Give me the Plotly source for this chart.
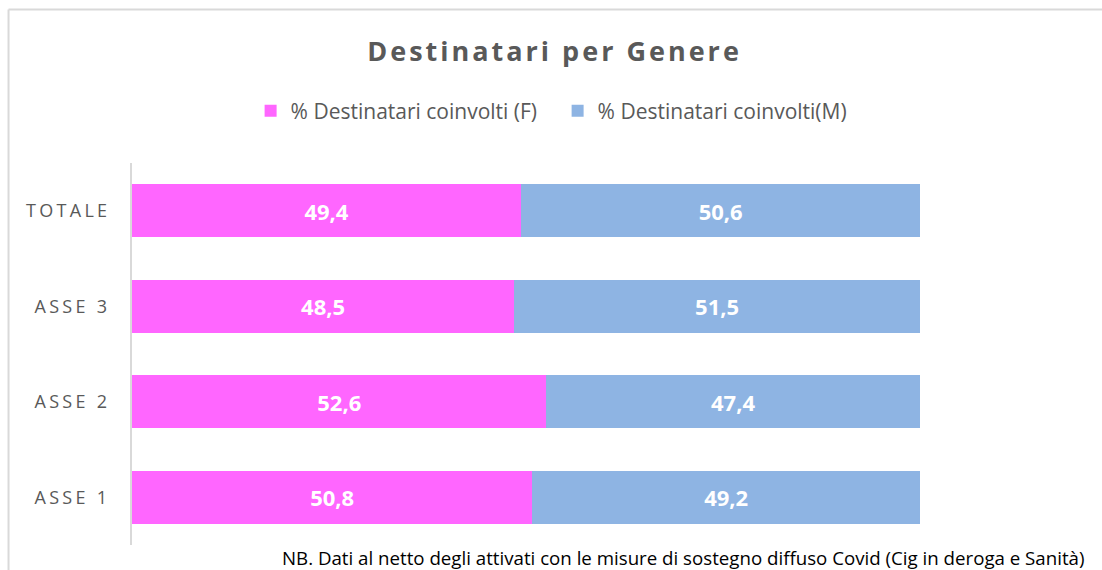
import plotly.graph_objects as go

# data
categories = ["ASSE 1", "ASSE 2", "ASSE 3", "TOTALE"]
female = [50.8, 52.6, 48.5, 49.4]
male = [49.2, 47.4, 51.5, 50.6]
name_f = "% Destinatari coinvolti (F)"
name_m = "% Destinatari coinvolti(M)"
title = "Destinatari per Genere"
note = "NB. Dati al netto degli attivati con le misure di sostegno diffuso Covid (Cig in deroga e Sanità)"
# ---------------------------------------------------------------------------

font = "Open Sans"
grey = "#595959"
W, H = 1102, 570

fig = go.Figure()
fig.add_trace(go.Bar(
  y=categories, x=female, orientation="h", name=name_f,
  marker=dict(color="#FF66FF", line=dict(width=0)),
  texttemplate="%{x:.1f}", textposition="inside", insidetextanchor="middle",
  textfont=dict(family=font, size=22, color="white", weight="bold"),
))
fig.add_trace(go.Bar(
  y=categories, x=male, orientation="h", name=name_m,
  marker=dict(color="#8EB4E3", line=dict(width=0)),
  texttemplate="%{x:.1f}", textposition="inside", insidetextanchor="middle",
  textfont=dict(family=font, size=22, color="white", weight="bold"),
))

# letter-spaced labels like the original
ticktext = ['<span style="letter-spacing:3.3px">%s</span>' % c for c in categories]

fig.update_layout(
  barmode="stack",
  bargap=0.445,
  separators=",.",
  width=W, height=H,
  margin=dict(l=132, r=182, t=163, b=25),
  paper_bgcolor="white", plot_bgcolor="white",
  font=dict(family=font, color=grey),
  title=dict(
    text='<b><span style="letter-spacing:3px">%s</span></b>' % title,
    x=0.5032, xref="container", xanchor="center", y=1 - 52 / H, yanchor="middle",
    font=dict(family=font, size=27, color=grey),
  ),
  legend=dict(
    orientation="h", xanchor="center", x=0.506, xref="container",
    yanchor="middle", y=1 - 111 / H, yref="container",
    font=dict(family=font, size=21, color=grey),
    traceorder="normal", itemwidth=30, entrywidth=262,
  ),
)
fig.update_xaxes(range=[0, 100], visible=False, fixedrange=True)
fig.update_yaxes(
  tickvals=categories, ticktext=ticktext,
  showline=True, linecolor="#d9d9d9", linewidth=2,
  ticks="", ticklabelstandoff=16,
  tickfont=dict(family=font, size=18, color=grey),
  showgrid=False,
)

# chart frame: only the left and top edges show in the picture
frame = dict(color="#d9d9d9", width=2)
fig.add_shape(type="line", xref="paper", yref="paper",
  x0=-0.1567, x1=-0.1567, y0=-0.3, y1=1.4018, line=frame, layer="below")
fig.add_shape(type="line", xref="paper", yref="paper",
  x0=-0.1567, x1=1.6, y0=1.4018, y1=1.4018, line=frame, layer="below")

fig.add_annotation(
  text=note, xref="paper", yref="paper", x=1.212, y=-0.034,
  xanchor="right", yanchor="middle", showarrow=False,
  font=dict(family=font, size=18.7, color="black"),
)

# drop the default page margin so the figure fills the window exactly
fig.write_html("out.html", config={"displayModeBar": False},
  post_script="document.body.style.margin='0';document.body.style.overflow='hidden';")
